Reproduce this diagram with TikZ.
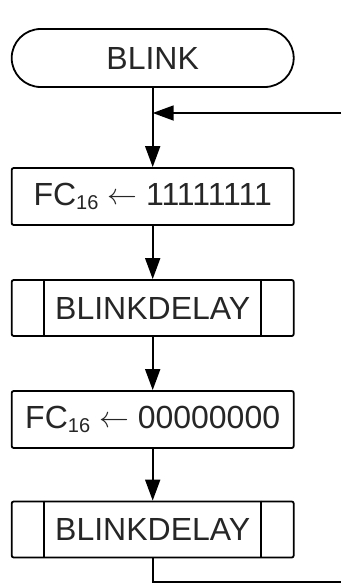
\documentclass[tikz,border=0pt]{standalone}
\usepackage{graphicx}
\usepackage{fontspec}
\setmainfont{Liberation Sans}
\usetikzlibrary{arrows.meta}

\newcommand{\sub}[1]{{\fontsize{20}{22}\selectfont\raisebox{-4pt}{#1}}}
\newcommand{\assign}{\raisebox{1pt}{\scalebox{1.2}{$\leftarrow$}}}

\tikzset{
  base/.style={draw, line width=1.8pt, rounded corners=2pt, minimum width=282pt,
    inner sep=0pt, font=\fontsize{32}{36}\selectfont, text=black!85},
  terminal/.style={base, rounded corners=29pt, minimum height=58pt},
  procbox/.style={base, minimum height=57pt},
  subproc/.style={base, minimum height=56pt,
    append after command={
      (\tikzlastnode.north west) ++(33pt,0) edge[line width=1.8pt] ++(0,-56pt)
      (\tikzlastnode.north east) ++(-34pt,0) edge[line width=1.8pt] ++(0,-56pt)}},
  flow/.style={line width=1.8pt, -{Triangle[length=21pt,width=15pt]}},
  wire/.style={line width=1.8pt}
}

\begin{document}
\begin{tikzpicture}[x=1pt,y=-1pt]
  \useasboundingbox (0,0) rectangle (341,586);

  \node[terminal] (start) at (152.7,58) {BLINK};
  \node[procbox]  (on)    at (152.7,196.5) {FC\sub{16} \assign{} 11111111};
  \node[subproc]  (d1)    at (152.7,308) {BLINKDELAY};
  \node[procbox]  (off)   at (152.7,419.5) {FC\sub{16} \assign{} 00000000};
  \node[subproc]  (d2)    at (152.7,529.5) {BLINKDELAY};

  % loop return enters from the right and joins below the start
  \coordinate (loopin) at (341,113);
  \coordinate (merge)  at (start.south |- loopin);
  \coordinate (bend)   at (start.south |- 0,582);
  \coordinate (loopout) at (341,582);

  \draw[wire] (start) -- (merge);
  \draw[flow] (loopin) -- (merge);
  \draw[flow] (merge) -- (on);
  \draw[flow] (on) -- (d1);
  \draw[flow] (d1) -- (off);
  \draw[flow] (off) -- (d2);
  \draw[wire] (d2) -- (bend) -- (loopout);
\end{tikzpicture}
\end{document}
